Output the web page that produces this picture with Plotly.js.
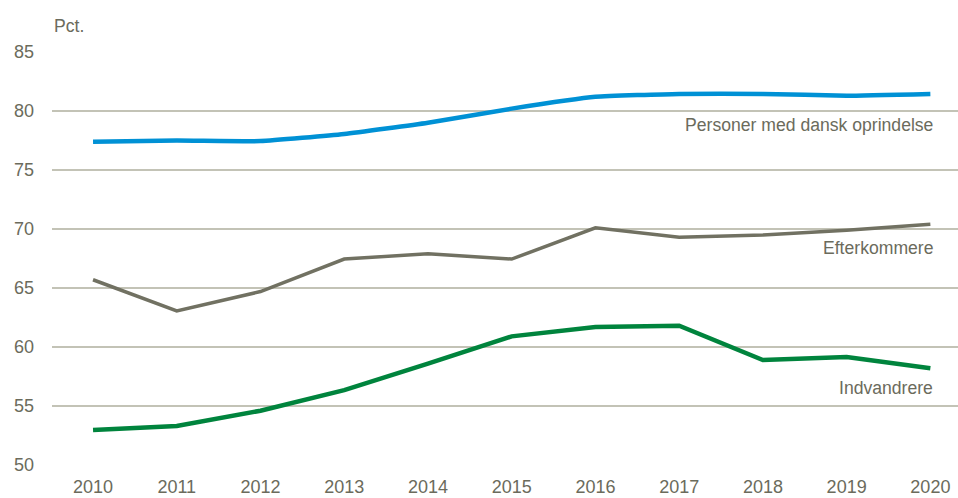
<!DOCTYPE html>
<html><head><meta charset="utf-8">
<script src="https://cdn.plot.ly/plotly-3.0.1.min.js"></script>
<style>html,body{margin:0;padding:0;background:#fff}#chart{width:958px;height:498px}</style>
</head><body><div id="chart"></div>
<script>
const years = ['2010','2011','2012','2013','2014','2015','2016','2017','2018','2019','2020'];
const dansk = [77.4, 77.5, 77.45, 78.05, 79.0, 80.2, 81.2, 81.45, 81.45, 81.3, 81.45];
const efterkommere = [65.7, 63.05, 64.7, 67.45, 67.9, 67.45, 70.1, 69.3, 69.5, 69.9, 70.4];
const indvandrere = [52.97, 53.3, 54.6, 56.35, 58.6, 60.9, 61.7, 61.8, 58.9, 59.15, 58.2];
const seriesNames = ['Personer med dansk oprindelse', 'Efterkommere', 'Indvandrere'];
const yTicks = [50, 55, 60, 65, 70, 75, 80, 85];

const textColor = '#6b6b5c';
const fontFam = '"Liberation Sans", Arial, sans-serif';
const colors = ['#0091d5', '#717162', '#00843d'];
const series = [dansk, efterkommere, indvandrere];

const traces = series.map((s, i) => ({
  x: years.map(Number), y: s, type: 'scatter', mode: 'lines', name: seriesNames[i],
  line: {color: colors[i], width: i === 1 ? 3.5 : 4.5, shape: i === 0 ? 'spline' : 'linear', smoothing: 0.4},
  hoverinfo: 'skip'
}));

const annotations = seriesNames.map((n, i) => ({
  x: 2020.05, y: [78.8, 68.4, 56.5][i], xref: 'x', yref: 'y', text: n, showarrow: false,
  xanchor: 'right', yanchor: 'middle', font: {family: fontFam, size: 17.6, color: textColor}
}));
annotations.push({x: 0.0, y: 1, xref: 'paper', yref: 'paper', xanchor: 'left', yanchor: 'bottom', yshift: 14,
  text: 'Pct.', showarrow: false, font: {family: fontFam, size: 17.6, color: textColor}});

Plotly.newPlot('chart', traces, {
  width: 958, height: 498,
  margin: {l: 52, r: 0, t: 52, b: 33},
  paper_bgcolor: '#fff', plot_bgcolor: '#fff',
  showlegend: false,
  xaxis: {range: [2009.51, 2020.33], tickvals: years.map(Number), ticktext: years, showgrid: false,
    zeroline: false, showline: false, ticks: '', ticklabelstandoff: 9,
    tickfont: {family: fontFam, size: 18, color: textColor}},
  yaxis: {range: [50, 85], tickvals: yTicks, showgrid: true, gridcolor: '#c3c3b6', gridwidth: 1.3,
    zeroline: false, showline: false, ticks: '', ticklabelstandoff: 17,
    tickfont: {family: fontFam, size: 18, color: textColor}},
  annotations: annotations
}, {staticPlot: true});
</script></body></html>
